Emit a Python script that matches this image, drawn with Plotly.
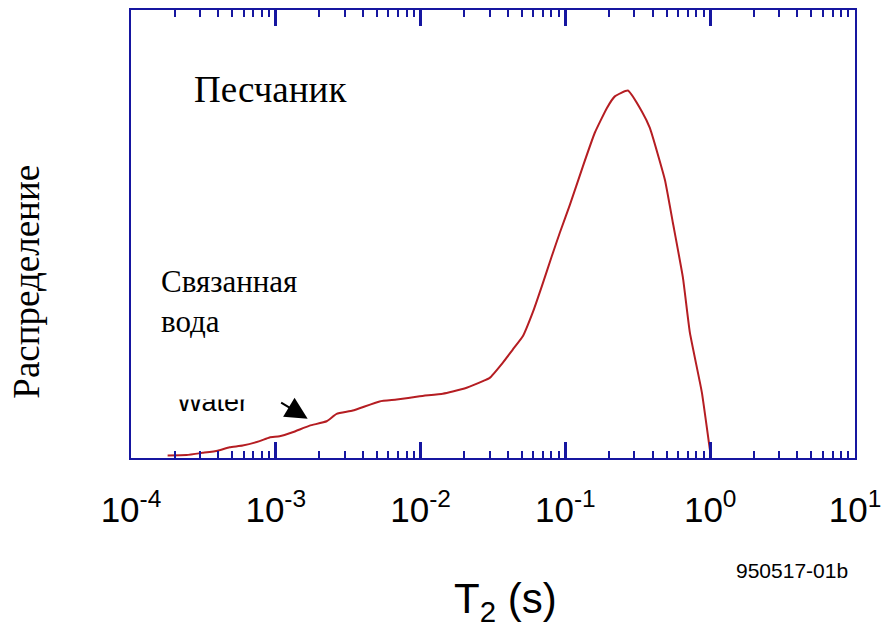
import plotly.graph_objects as go

# T2 relaxation time (s) and distribution amplitude (arbitrary units, peak = 100)
t2_values = [1.79e-4, 2.42e-4, 3.12e-4, 3.96e-4, 4.80e-4, 5.90e-4, 7.73e-4, 9.06e-4,
             1.062e-3, 1.306e-3, 1.713e-3, 2.244e-3, 2.63e-3, 3.40e-3, 5.21e-3, 6.84e-3,
             9.86e-3, 1.422e-2, 1.667e-2, 2.08e-2, 2.69e-2, 3.00e-2, 3.69e-2, 4.33e-2,
             5.08e-2, 5.95e-2, 6.87e-2, 8.05e-2, 9.15e-2, 0.1072, 0.1319, 0.1596,
             0.1932, 0.2195, 0.270, 0.3373, 0.3830, 0.4864, 0.5524, 0.648,
             0.7240, 0.8762, 0.995, 1.01]
amplitude = [0.7, 0.8, 1.4, 2.0, 2.9, 3.4, 4.6, 5.6,
             5.9, 7.0, 8.8, 10.0, 12.0, 12.9, 15.4, 15.9,
             16.8, 17.5, 18.1, 19.1, 20.9, 21.8, 25.9, 29.5,
             33.1, 39.6, 46.7, 54.9, 61.3, 68.8, 79.3, 88.5,
             95.2, 98.4, 100.0, 94.3, 89.8, 75.7, 64.0, 49.1,
             34.1, 17.8, 2.3, 0.7]

tick_vals = [1e-4, 1e-3, 1e-2, 1e-1, 1e0, 1e1]
tick_text = ["10<sup>-4</sup>", "10<sup>-3</sup>", "10<sup>-2</sup>",
             "10<sup>-1</sup>", "10<sup>0</sup>", "10<sup>1</sup>"]

AXIS = "#1616a0"
SERIF = "Liberation Serif, Times New Roman, serif"
SANS = "Liberation Sans, Arial, sans-serif"

fig = go.Figure()
fig.add_trace(go.Scatter(x=t2_values, y=amplitude, mode="lines", line_shape="spline",
                         line=dict(color="#b51d22", width=2, smoothing=0.4), showlegend=False))

fig.update_layout(
    width=887, height=633,
    margin=dict(l=131, r=32, t=10, b=175, autoexpand=False),
    paper_bgcolor="white", plot_bgcolor="white",
    xaxis=dict(type="log", range=[-4, 1], tickmode="array",
               tickvals=tick_vals, ticktext=tick_text, automargin=False,
               ticks="inside", ticklen=16, tickwidth=2.5, tickcolor=AXIS,
               showline=True, linecolor=AXIS, linewidth=2, mirror="ticks",
               showgrid=False, zeroline=False,
               tickfont=dict(family=SANS, size=35, color="black"),
               ticklabelstandoff=20,
               minor=dict(ticks="inside", ticklen=7, tickwidth=1.5, tickcolor=AXIS,
                          dtick="D1", showgrid=False)),
    yaxis=dict(range=[0, 121.9], showticklabels=False, ticks="", automargin=False,
               showline=True, linecolor=AXIS, linewidth=2, mirror=True,
               showgrid=False, zeroline=False),
)

anns = [
    dict(text="Песчаник", xref="paper", yref="paper", x=(192 - 131) / 724, y=(458.5 - 90) / 448.5,
         xanchor="left", yanchor="middle", showarrow=False,
         font=dict(family=SERIF, size=37, color="black")),
    dict(text="Связанная<br>вода", xref="paper", yref="paper", x=(159 - 131) / 724, y=(458.5 - 302) / 448.5,
         xanchor="left", yanchor="middle", align="left", showarrow=False,
         font=dict(family=SERIF, size=31, color="black")),
    dict(text="Распределение", xref="paper", yref="paper", x=0, xshift=-104, y=(458.5 - 282) / 448.5,
         xanchor="center", yanchor="middle", textangle=-90, showarrow=False,
         font=dict(family=SERIF, size=37, color="black")),
    dict(text="Water", xref="paper", yref="paper", x=(212 - 131) / 724, y=(458.5 - 402) / 448.5,
         xanchor="center", yanchor="middle", showarrow=False,
         font=dict(family=SANS, size=27, color="black")),
    # white mask clipping the top of the "Water" label as in the original
    dict(text=" ", xref="paper", yref="paper", x=(212 - 131) / 724, y=(458.5 - 390) / 448.5,
         xanchor="center", yanchor="middle", showarrow=False, width=100, height=16,
         bgcolor="white", font=dict(size=10)),
    dict(text="", x=-2.78, y=10.7, xref="x", yref="y", ax=-28, ay=-17,
         showarrow=True, arrowhead=2, arrowsize=2.2, arrowwidth=2, arrowcolor="black"),
    dict(text="T<sub>2</sub> (s)", xref="paper", yref="paper", x=0.5, xshift=12, y=0, yshift=-143,
         xanchor="center", yanchor="middle", showarrow=False,
         font=dict(family=SANS, size=42, color="black")),
    dict(text="950517-01b", xref="paper", yref="paper", x=(792 - 131) / 724, y=0, yshift=-112,
         xanchor="center", yanchor="middle", showarrow=False,
         font=dict(family=SANS, size=21, color="black")),
]
fig.update_layout(annotations=anns)

fig.write_html("out.html")
